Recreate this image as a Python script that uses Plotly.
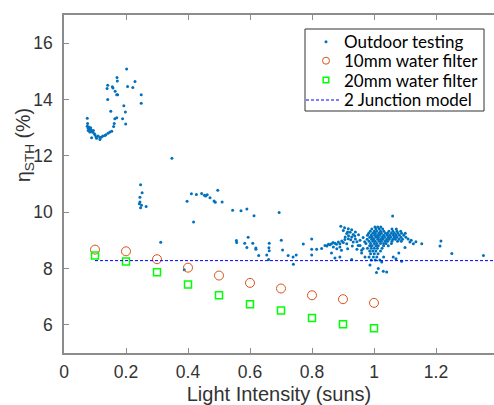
import plotly.graph_objects as go

# ---- data ----
loop_x = [0.202,0.171,0.172,0.229,0.141,0.156,0.158,0.205,0.222,0.139,0.165,0.170,0.173,0.249,0.141,0.249,0.193,0.151,0.198,0.170,0.164,0.189,0.075,0.162,0.076,0.199,0.075,0.078,0.082,0.086,0.078,0.088,0.090,0.083,0.092,0.095,0.080,0.085,0.160,0.154,0.142,0.132,0.116,0.103,0.100,0.116,0.089,0.110,0.125,0.135,0.148,0.098,0.105,0.120]
loop_y = [15.08,14.78,14.66,14.64,14.51,14.45,14.41,14.46,14.43,14.39,14.29,14.17,14.17,14.17,14.00,13.87,13.78,13.58,13.56,13.35,13.32,13.32,13.33,13.15,13.15,13.13,13.05,12.98,12.95,13.00,12.90,12.92,12.88,12.85,12.84,12.90,13.02,12.93,13.04,12.87,12.80,12.72,12.65,12.68,12.75,12.58,12.64,12.70,12.70,12.75,12.85,12.78,12.62,12.66]

mid_x = [0.348,0.247,0.252,0.245,0.245,0.243,0.247,0.265,0.250,0.397,0.411,0.427,0.444,0.457,0.462,0.453,0.471,0.496,0.484,0.488,0.510,0.544,0.571,0.590,0.613,0.694,0.418,0.312,0.388]
mid_y = [11.91,10.97,10.69,10.53,10.36,10.30,10.16,10.20,10.25,10.39,10.65,10.63,10.66,10.57,10.62,10.60,10.51,10.78,10.40,10.35,10.36,10.07,10.05,10.11,9.87,9.99,9.65,8.93,7.96]

low_x = [0.556,0.557,0.594,0.583,0.590,0.609,0.619,0.619,0.628,0.654,0.662,0.661,0.662,0.660,0.701,0.705,0.723,0.739,0.749,0.740,0.772,0.799,0.799,0.815,0.799]
low_y = [8.99,8.92,9.11,8.90,8.75,8.90,8.73,8.68,8.46,8.48,8.90,8.74,8.63,8.32,9.00,8.66,8.46,8.41,8.48,8.15,8.87,9.05,8.68,8.68,8.48]

band_x = [0.831,0.842,0.853,0.863,0.874,0.885,0.896,0.906,0.917,0.928,0.901,0.912,0.923,0.933,0.917,0.893,0.869,0.890,0.912,0.933,0.949,0.863,0.874,0.890,0.928,0.960,0.971,0.955,0.965,0.960,0.848,0.858,0.868,0.879,0.890,0.901,0.907,0.918,0.925,0.940,0.945,0.938,0.955,0.965,0.970,0.905,0.915,0.928,0.940,0.950,0.880,0.895,0.915,0.930,0.945]
band_y = [8.71,8.82,8.86,8.88,8.90,8.94,8.98,9.03,9.06,9.12,9.35,9.24,9.29,9.21,9.41,9.50,8.76,8.76,8.88,8.94,8.82,8.55,8.37,8.41,8.32,8.65,8.41,8.82,8.71,8.55,8.80,8.84,8.92,8.86,8.88,8.92,9.12,9.16,9.02,9.05,8.95,9.15,9.00,9.10,8.95,9.45,9.30,9.38,9.30,9.20,8.70,8.65,8.70,8.80,8.68]

# dense cluster near 1 sun, listed row by row (y level, x positions)
cluster_rows = [
    (9.47, [1.003,1.012,1.022]),
    (9.40, [0.993,1.006,1.017,1.028,1.058,1.072]),
    (9.32, [0.988,1.001,1.009,1.021,1.032,1.048,1.061,1.074,1.086]),
    (9.25, [0.983,0.996,1.004,1.016,1.024,1.037,1.044,1.056,1.066,1.077,1.089,1.101]),
    (9.18, [0.979,0.991,1.002,1.011,1.019,1.031,1.042,1.051,1.062,1.071,1.082,1.096]),
    (9.11, [0.986,0.994,1.006,1.014,1.026,1.034,1.046,1.054,1.066,1.074,1.087,1.103]),
    (9.04, [0.978,0.992,0.999,1.012,1.021,1.029,1.041,1.049,1.061,1.069,1.081,1.092]),
    (8.97, [0.984,0.996,1.004,1.016,1.024,1.036,1.044,1.058,1.076,1.088]),
    (8.89, [0.974,0.989,1.001,1.009,1.021,1.031,1.039,1.056]),
    (8.81, [0.986,0.994,1.006,1.014,1.031,1.046]),
    (8.72, [0.979,0.991,1.001,1.011,1.026]),
    (8.62, [0.986,0.996,1.006,1.021]),
    (8.52, [0.989,1.001,1.013]),
    (8.41, [0.984,0.998,1.009,1.031]),
    (8.30, [0.991,1.004,1.019]),
]

trail_x = [1.06,1.116,1.127,1.154,1.216,1.213,1.251,1.353,1.014,1.008,1.030,1.041,0.987,1.025,1.089,1.062,1.071,1.11,1.12,1.135,1.10,1.08]
trail_y = [9.86,8.94,8.88,8.88,8.98,8.80,8.53,8.46,8.00,7.86,7.90,7.88,8.12,8.23,8.26,8.41,8.35,9.05,9.00,8.95,8.75,8.55]

filter_x = [0.1,0.2,0.3,0.4,0.5,0.6,0.7,0.8,0.9,1.0]
filter10_y = [8.67,8.61,8.33,8.03,7.75,7.49,7.29,7.05,6.91,6.78]
filter20_y = [8.46,8.25,7.87,7.43,7.05,6.73,6.51,6.24,6.02,5.88]

model_x = [0.1,1.4]
model_y = [8.28,8.28]

x_ticks = [0,0.2,0.4,0.6,0.8,1,1.2]
x_ticklabels = ["0","0.2","0.4","0.6","0.8","1","1.2"]
y_ticks = [6,8,10,12,14,16]

legend_labels = ["Outdoor testing", "10mm water filter", "20mm water filter", "2 Junction model"]

# ---- assemble outdoor series ----
cl_x, cl_y = [], []
for yv, xs in cluster_rows:
    for xv in xs:
        cl_x.append(xv)
        cl_y.append(yv)
out_x = loop_x + mid_x + low_x + band_x + cl_x + trail_x
out_y = loop_y + mid_y + low_y + band_y + cl_y + trail_y

C_OUT, C_10, C_20, C_MOD = "#0072BD", "#D95319", "#00FF00", "#0000FF"

fig = go.Figure()
fig.add_trace(go.Scatter(x=out_x, y=out_y, mode="markers", name=legend_labels[0],
                         marker=dict(size=3, color=C_OUT)))
fig.add_trace(go.Scatter(x=filter_x, y=filter10_y, mode="markers", name=legend_labels[1],
                         marker=dict(symbol="circle-open", size=9, color=C_10,
                                     line=dict(width=1, color=C_10))))
fig.add_trace(go.Scatter(x=filter_x, y=filter20_y, mode="markers", name=legend_labels[2],
                         marker=dict(symbol="square-open", size=7, color=C_20,
                                     line=dict(width=1.5, color=C_20))))
fig.add_trace(go.Scatter(x=model_x, y=model_y, mode="lines", name=legend_labels[3],
                         line=dict(color=C_MOD, width=1, dash="3px,2px")))

# ---- layout helpers (pixel -> paper) ----
L, R, T, B = 64, 494, 15, 353
def px(xp):
    return (xp - L) / (R - L)
def py(yp):
    return (B - yp) / (B - T)

shapes = []
annotations = []
# legend box
shapes.append(dict(type="rect", xref="paper", yref="paper", x0=px(305), x1=px(484), y0=py(111), y1=py(29),
                   line=dict(color="#333333", width=1), fillcolor="white", layer="above"))
row_y = [41.7, 60.7, 80.0, 100.0]
sym_x = 326
shapes.append(dict(type="circle", xref="paper", yref="paper", xsizemode="pixel", ysizemode="pixel",
                   xanchor=px(sym_x), yanchor=py(row_y[0]), x0=-1.5, x1=1.5, y0=-1.5, y1=1.5,
                   fillcolor=C_OUT, line=dict(width=0), layer="above"))
shapes.append(dict(type="circle", xref="paper", yref="paper", xsizemode="pixel", ysizemode="pixel",
                   xanchor=px(sym_x), yanchor=py(row_y[1]), x0=-3.5, x1=3.5, y0=-3.5, y1=3.5,
                   line=dict(color=C_10, width=1), layer="above"))
shapes.append(dict(type="rect", xref="paper", yref="paper", xsizemode="pixel", ysizemode="pixel",
                   xanchor=px(sym_x), yanchor=py(row_y[2]), x0=-2.8, x1=2.8, y0=-2.8, y1=2.8,
                   line=dict(color=C_20, width=1.5), layer="above"))
shapes.append(dict(type="line", xref="paper", yref="paper", x0=px(306), x1=px(340), y0=py(row_y[3]), y1=py(row_y[3]),
                   line=dict(color=C_MOD, width=1, dash="3px,2px"), layer="above"))
for lab, ry in zip(legend_labels, row_y):
    annotations.append(dict(text=lab, x=px(342), y=py(ry), xref="paper", yref="paper",
                            xanchor="left", yanchor="middle", showarrow=False,
                            font=dict(family="Lato, Carlito, sans-serif", size=17, color="#000000")))

annotations.append(dict(text="η<sub>STH</sub> (%)", x=px(24), y=py(145), xref="paper", yref="paper",
                        textangle=-90, showarrow=False, xanchor="center", yanchor="middle",
                        font=dict(family="Liberation Sans, Arial", size=19.5, color="#333333")))

axis_col = "#8c8c8c"
tick_font = dict(family="Liberation Sans, Arial", size=17.5, color="#333333")

fig.update_layout(
    width=494, height=405,
    margin=dict(l=L, r=0, t=T, b=405 - B),
    paper_bgcolor="white", plot_bgcolor="white",
    showlegend=False,
    xaxis=dict(range=[0, 430/310], tickvals=x_ticks, ticktext=x_ticklabels,
               showgrid=False, zeroline=False, showline=True, linecolor=axis_col, linewidth=1.5,
               ticks="inside", ticklen=5, tickcolor=axis_col, tickwidth=1, mirror="ticks",
               tickfont=tick_font, ticklabelstandoff=2,
               title=dict(text="Light Intensity (suns)", font=dict(family="Liberation Sans, Arial", size=20, color="#333333"), standoff=8)),
    yaxis=dict(range=[5, 17], tickvals=y_ticks,
               showgrid=False, zeroline=False, showline=True, linecolor=axis_col, linewidth=1.5,
               ticks="inside", ticklen=5, tickcolor=axis_col, tickwidth=1, mirror=False,
               tickfont=tick_font, ticklabelstandoff=6),
    shapes=shapes,
    annotations=annotations,
)

fig.write_html("out.html")
